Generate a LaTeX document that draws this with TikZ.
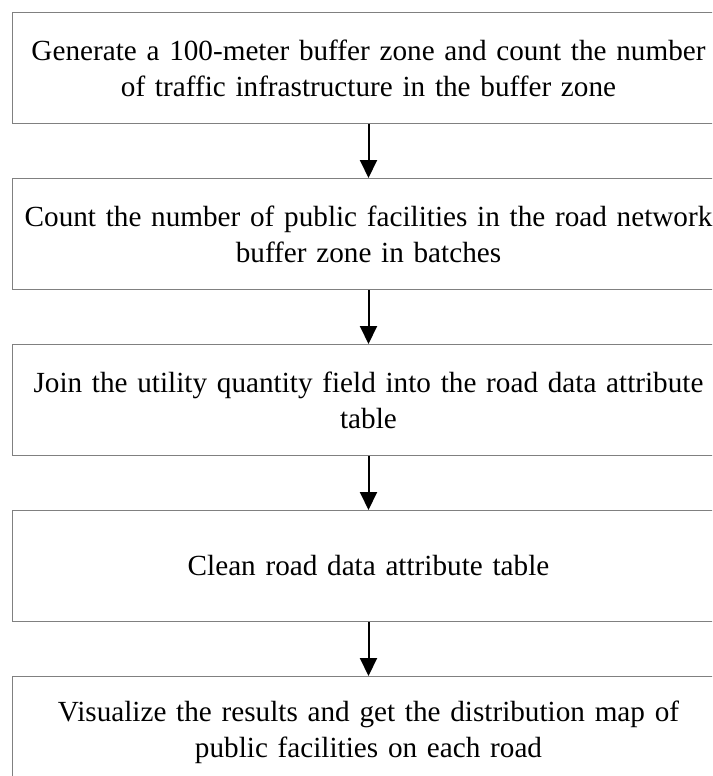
\documentclass[tikz,border=0pt]{standalone}
\usepackage{fontspec}
\setmainfont{Liberation Serif}
\usetikzlibrary{arrows.meta,positioning}

\begin{document}
\begin{tikzpicture}[
  x=1pt, y=1pt,
  node distance=54pt,
  box/.style={rectangle, draw=black!50, line width=1pt, minimum width=712pt, minimum height=111pt, text width=712pt, align=center, inner sep=0pt, font=\fontsize{29.2}{36}\selectfont},
  arrow/.style={-{Triangle[length=18pt,width=17pt]}, line width=2pt}
]
  \path[use as bounding box, clip] (0,0) rectangle (712,-776);
  \fill[white] (0,0) rectangle (712,-776);

  \node[box, anchor=north west] (buffer) at (12,-12) {Generate a 100-meter buffer zone and count the number\\of traffic infrastructure in the buffer zone};
  \node[box, below=of buffer] (count) {Count the number of public facilities in the road network\\buffer zone in batches};
  \node[box, below=of count] (join) {Join the utility quantity field into the road data attribute\\table};
  \node[box, below=of join] (clean) {Clean road data attribute table};
  \node[box, below=of clean] (visual) {Visualize the results and get the distribution map of\\public facilities on each road};

  \draw[arrow] (buffer) -- (count);
  \draw[arrow] (count) -- (join);
  \draw[arrow] (join) -- (clean);
  \draw[arrow] (clean) -- (visual);
\end{tikzpicture}
\end{document}
